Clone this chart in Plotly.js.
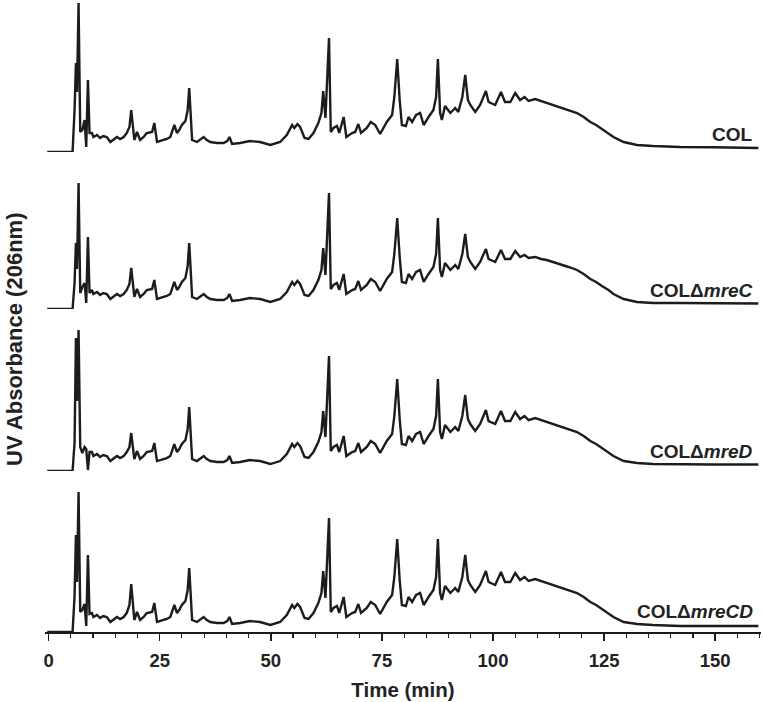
<!DOCTYPE html>
<html>
<head>
<meta charset="utf-8">
<script src="https://cdn.plot.ly/plotly-3.0.1.min.js"></script>
<style>html,body{margin:0;padding:0;background:#fff;}#chart{width:763px;height:702px;}</style>
</head>
<body>
<div id="chart"></div>
<script>
// Retention time (min)
const time = [-0.3, 5.4, 5.85, 6.16, 6.4, 6.75, 7.13, 7.6, 8.1, 8.48, 8.86, 9.22, 9.76, 10.1, 10.9, 11.6, 12.3, 13.1, 13.9, 14.6, 15.4, 16.1, 16.9, 17.6, 18.2, 18.6, 19.3, 19.9, 20.6, 21.4, 22.1, 23.3, 23.8, 24.4, 25.2, 25.9, 26.6, 27.4, 28.3, 28.9, 29.4, 30.0, 30.8, 31.3, 31.65, 32.3, 33.4, 34.9, 35.6, 36.4, 37.9, 39.4, 40.2, 40.7, 41.3, 43.1, 45.3, 47.6, 49.9, 52.1, 53.6, 54.8, 55.3, 56.0, 56.6, 57.6, 58.5, 59.6, 60.7, 61.4, 61.8, 62.3, 63.1, 63.5, 64.1, 64.9, 65.4, 66.4, 67.0, 68.3, 69.0, 69.7, 70.3, 71.6, 72.5, 73.5, 74.6, 76.1, 77.3, 77.8, 78.45, 79.0, 79.5, 80.4, 81.0, 81.8, 82.7, 83.6, 84.4, 85.5, 86.6, 87.2, 87.6, 88.1, 88.5, 89.2, 90.4, 91.5, 92.2, 93.1, 93.75, 94.35, 94.9, 96.0, 97.1, 98.4, 99.0, 100.5, 101.8, 102.7, 103.9, 105.0, 106.1, 107.1, 108.0, 109.5, 110.8, 112.1, 113.6, 115.1, 117.0, 118.9, 120.4, 121.9, 123.2, 124.5, 126.0, 127.1, 129.4, 132.4, 136.0, 142.1, 149.5, 159.7];

// UV absorbance at 206 nm (arbitrary units, relative to each baseline)
const col = [0, 0, 42, 89, 60, 149, 20, 22, 32, 5, 72, 19, 19, 15, 17, 14, 16, 15, 10, 12, 15, 13, 15, 19, 25, 42, 12, 20, 12, 15, 19, 20, 29, 10, 11, 12, 13, 15, 27, 19, 22, 27, 31, 42, 64, 12, 10, 15, 12, 10, 9, 9, 11, 15, 8, 9, 11, 10, 7, 10, 17, 27, 24, 28, 25, 14, 13, 19, 29, 39, 61, 34, 114, 20, 24, 26, 19, 35, 15, 19, 20, 28, 19, 24, 30, 27, 18, 30, 37, 55, 93, 52, 27, 26, 35, 30, 37, 39, 27, 35, 42, 55, 93, 39, 32, 46, 39, 44, 40, 55, 77, 52, 47, 40, 47, 61, 50, 47, 60, 50, 50, 59, 52, 55, 51, 53, 51, 49, 47, 45, 42, 39, 35, 30, 27, 23, 19, 15, 10, 7, 6, 5, 4.7, 4];
const colMreC = [0, 0, 26, 66, 40, 126, 16, 22, 26, 6, 72, 16, 19, 15, 17, 14, 16, 15, 10, 12, 15, 13, 15, 19, 25, 41, 12, 20, 12, 15, 19, 20, 29, 10, 11, 12, 13, 15, 27, 19, 22, 27, 31, 43, 66, 12, 10, 15, 12, 10, 9, 9, 11, 15, 8, 9, 11, 10, 7, 10, 17, 27, 24, 28, 25, 14, 13, 19, 29, 39, 61, 34, 116, 20, 24, 26, 19, 35, 15, 19, 20, 28, 19, 24, 30, 27, 18, 30, 37, 55, 91, 52, 27, 26, 35, 30, 37, 39, 27, 35, 42, 55, 91, 39, 32, 46, 39, 44, 40, 55, 75, 52, 47, 40, 47, 60, 50, 47, 59, 50, 50, 58, 52, 54, 51, 52, 50, 49, 47, 45, 42, 39, 35, 30, 27, 23, 19, 15, 10, 7, 6, 6, 5.5, 5.5];
const colMreD = [0, 0, 28, 133, 70, 141, 24, 18, 24, 22, 1, 19, 19, 15, 17, 14, 16, 15, 10, 12, 15, 13, 15, 19, 24, 38, 12, 20, 12, 15, 19, 20, 28, 10, 11, 12, 13, 15, 27, 19, 22, 27, 31, 42, 64, 12, 10, 15, 12, 10, 9, 9, 11, 15, 8, 9, 11, 10, 7, 10, 17, 27, 24, 28, 25, 14, 13, 19, 29, 39, 60, 34, 115, 20, 24, 26, 19, 35, 15, 19, 20, 28, 19, 24, 30, 27, 18, 30, 37, 55, 92, 52, 27, 26, 35, 30, 37, 39, 27, 35, 42, 55, 92, 39, 32, 46, 39, 44, 40, 55, 76, 52, 47, 40, 47, 61, 50, 47, 60, 50, 50, 59, 52, 55, 51, 53, 51, 49, 47, 45, 42, 39, 35, 30, 27, 23, 19, 15, 10, 8, 7, 6.5, 6.5, 6.5];
const colMreCD = [0, 0, 36, 97, 50, 140, 20, 22, 28, 6, 77, 18, 19, 15, 17, 14, 16, 15, 10, 12, 15, 13, 15, 19, 27, 48, 12, 20, 12, 15, 19, 20, 29, 10, 11, 12, 13, 15, 27, 19, 22, 27, 31, 42, 64, 12, 10, 15, 12, 10, 9, 9, 11, 15, 8, 9, 11, 10, 7, 10, 17, 27, 24, 28, 25, 14, 13, 19, 29, 39, 61, 34, 114, 20, 24, 26, 19, 35, 15, 19, 20, 28, 19, 24, 30, 27, 18, 30, 37, 55, 93, 52, 27, 26, 35, 30, 37, 39, 27, 35, 42, 55, 93, 39, 32, 46, 39, 44, 40, 55, 77, 52, 47, 40, 47, 61, 50, 47, 60, 50, 50, 59, 52, 55, 51, 53, 51, 49, 47, 45, 42, 39, 35, 30, 27, 23, 19, 15, 10, 8, 7, 6, 6, 6];

const strainNames = ['COL', 'COL\u0394<i>mreC</i>', 'COL\u0394<i>mreD</i>', 'COL\u0394<i>mreCD</i>'];
const xTickVals = [0, 25, 50, 75, 100, 125, 150];

const series = [col, colMreC, colMreD, colMreCD];
const axisIds = ['y', 'y2', 'y3', 'y4'];
const lineColor = '#1e1b1c';
const fontFam = 'Liberation Sans, Arial, Helvetica, sans-serif';

const traces = series.map((vals, i) => ({
  x: time, y: vals, type: 'scatter', mode: 'lines', name: strainNames[i],
  xaxis: 'x', yaxis: axisIds[i],
  line: {color: lineColor, width: 2.4, shape: 'linear'},
  hoverinfo: 'skip', showlegend: false
}));

// Stacked panels (top to bottom)
const domains = [[0.7595, 1], [0.5111, 0.7595], [0.2547, 0.5111], [0, 0.2547]];
const plotH = 632;
function yax(i) {
  const d = domains[i];
  return {domain: d, range: [0, (d[1] - d[0]) * plotH], visible: false, fixedrange: true, anchor: 'x'};
}

const labelY = [18, 18, 20, 20];
const annotations = strainNames.map((s, i) => ({
  text: s, xref: 'paper', x: 0.9916, xanchor: 'right',
  yref: axisIds[i], y: labelY[i], yanchor: 'middle', showarrow: false,
  font: {family: fontFam, size: 19, color: '#222', weight: 700}
}));
annotations.push({
  text: 'UV Absorbance (206nm)', textangle: -90, xref: 'paper', x: -0.0433, xanchor: 'center',
  yref: 'paper', y: 0.4636, yanchor: 'middle', showarrow: false,
  font: {family: fontFam, size: 22, color: '#222', weight: 700}
});

const layout = {
  width: 763, height: 702,
  margin: {l: 45, r: 2, t: 0, b: 70},
  paper_bgcolor: '#fff', plot_bgcolor: '#fff',
  showlegend: false,
  xaxis: {
    range: [-0.8, 160.3], anchor: 'y4', showgrid: false, zeroline: false,
    showline: true, linecolor: lineColor, linewidth: 1.5,
    ticks: 'outside', ticklen: 7, tickwidth: 1.5, tickcolor: lineColor,
    tickmode: 'array', tickvals: xTickVals, ticktext: xTickVals.map(String),
    ticklabelstandoff: 4,
    tickfont: {family: fontFam, size: 18.5, color: '#222', weight: 700},
    minor: {dtick: 5, tick0: 0, ticks: 'outside', ticklen: 4, tickwidth: 1.2, tickcolor: lineColor, showgrid: false},
    title: {text: 'Time (min)', font: {family: fontFam, size: 20.5, color: '#222', weight: 700}, standoff: 13},
    fixedrange: true
  },
  yaxis: yax(0), yaxis2: yax(1), yaxis3: yax(2), yaxis4: yax(3),
  annotations: annotations
};

Plotly.newPlot('chart', traces, layout, {displayModeBar: false, staticPlot: true});
</script>
</body>
</html>
